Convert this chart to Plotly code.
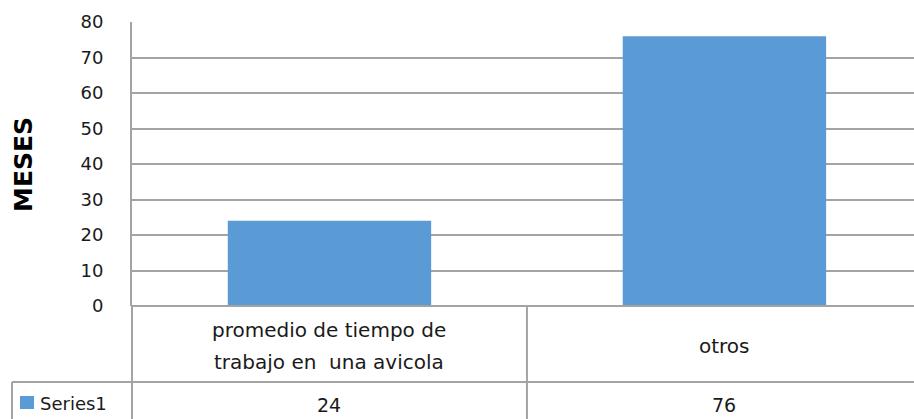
import plotly.graph_objects as go

categories = ["promedio de tiempo de<br>trabajo en  una avicola", "otros"]
values = [24, 76]
series_name = "Series1"
y_title = "MESES"
y_ticks = [0, 10, 20, 30, 40, 50, 60, 70, 80]

W, H = 914, 419
L, T, B = 132, 22, 113
plot_w = W - L
plot_h = H - T - B
bar_color = "#5B9BD5"
line_color = "#A3A3A3"
lw = 2
txt = "#1a1a1a"
font_fam = "DejaVu Sans"


def py(p):
    return (H - B - p) / plot_h


def px(p):
    return (p - L) / plot_w


fig = go.Figure()
fig.add_trace(go.Bar(x=list(range(len(categories))), y=values, name=series_name,
                     marker=dict(color=bar_color, line=dict(width=0)), width=0.515))

fig.update_layout(
    width=W, height=H,
    margin=dict(l=L, r=0, t=T, b=B, autoexpand=False),
    paper_bgcolor="white", plot_bgcolor="white",
    showlegend=False,
    xaxis=dict(range=[-0.5, 1.48], showticklabels=False, showgrid=False, zeroline=False,
               showline=False, fixedrange=True, automargin=False),
    yaxis=dict(range=[0, 80], tickvals=y_ticks, showgrid=True, gridcolor=line_color, gridwidth=lw,
               zeroline=False, showline=True, linecolor=line_color, linewidth=lw,
               ticks="", ticklen=0, ticklabelstandoff=23, automargin=False,
               tickfont=dict(family=font_fam, size=18, color=txt)),
)

ln_style = dict(color=line_color, width=lw)
shapes = []
shapes.append(dict(type="line", xref="paper", yref="paper", x0=0, x1=1, y0=0, y1=0, line=ln_style))
shapes.append(dict(type="line", xref="paper", yref="paper", x0=px(12), x1=1, y0=py(382), y1=py(382),
                   line=ln_style))
shapes.append(dict(type="line", xref="paper", yref="paper", x0=0, x1=0, y0=0, y1=py(H + 5), line=ln_style))
shapes.append(dict(type="line", xref="paper", yref="paper", x0=px(12), x1=px(12), y0=py(382), y1=py(H + 5),
                   line=ln_style))
for i in range(len(categories) - 1):
    shapes.append(dict(type="line", xref="x", yref="paper", x0=i + 0.5, x1=i + 0.5, y0=0, y1=py(H + 5),
                       line=ln_style))
shapes.append(dict(type="rect", xref="paper", yref="paper", x0=px(20), x1=px(34), y0=py(409), y1=py(396),
                   fillcolor=bar_color, line=dict(width=0)))

annotations = []
row_mid = 346
line_gap = 32
for i, (c, v) in enumerate(zip(categories, values)):
    lines = c.split("<br>")
    n = len(lines)
    for k, ln in enumerate(lines):
        yc = row_mid + (k - (n - 1) / 2) * line_gap
        annotations.append(dict(x=i, y=py(yc), xref="x", yref="paper", text=ln, showarrow=False,
                                font=dict(family=font_fam, size=20, color=txt), align="center",
                                yanchor="middle", xanchor="center"))
    annotations.append(dict(x=i, y=py(405), xref="x", yref="paper", text=str(v), showarrow=False,
                            font=dict(family=font_fam, size=19, color=txt), yanchor="middle",
                            xanchor="center"))
annotations.append(dict(x=px(38), y=py(403), xref="paper", yref="paper", text=series_name, showarrow=False,
                        font=dict(family=font_fam, size=18, color=txt), xanchor="left", yanchor="middle"))
annotations.append(dict(x=px(23), y=py(164), xref="paper", yref="paper", text="<b>" + y_title + "</b>",
                        showarrow=False, textangle=-90, font=dict(family=font_fam, size=25, color="#000"),
                        xanchor="center", yanchor="middle"))

fig.update_layout(shapes=shapes, annotations=annotations)
fig.write_html("out.html", config={"displayModeBar": False},
               post_script="document.body.style.margin='0';document.body.style.overflow='hidden';")
